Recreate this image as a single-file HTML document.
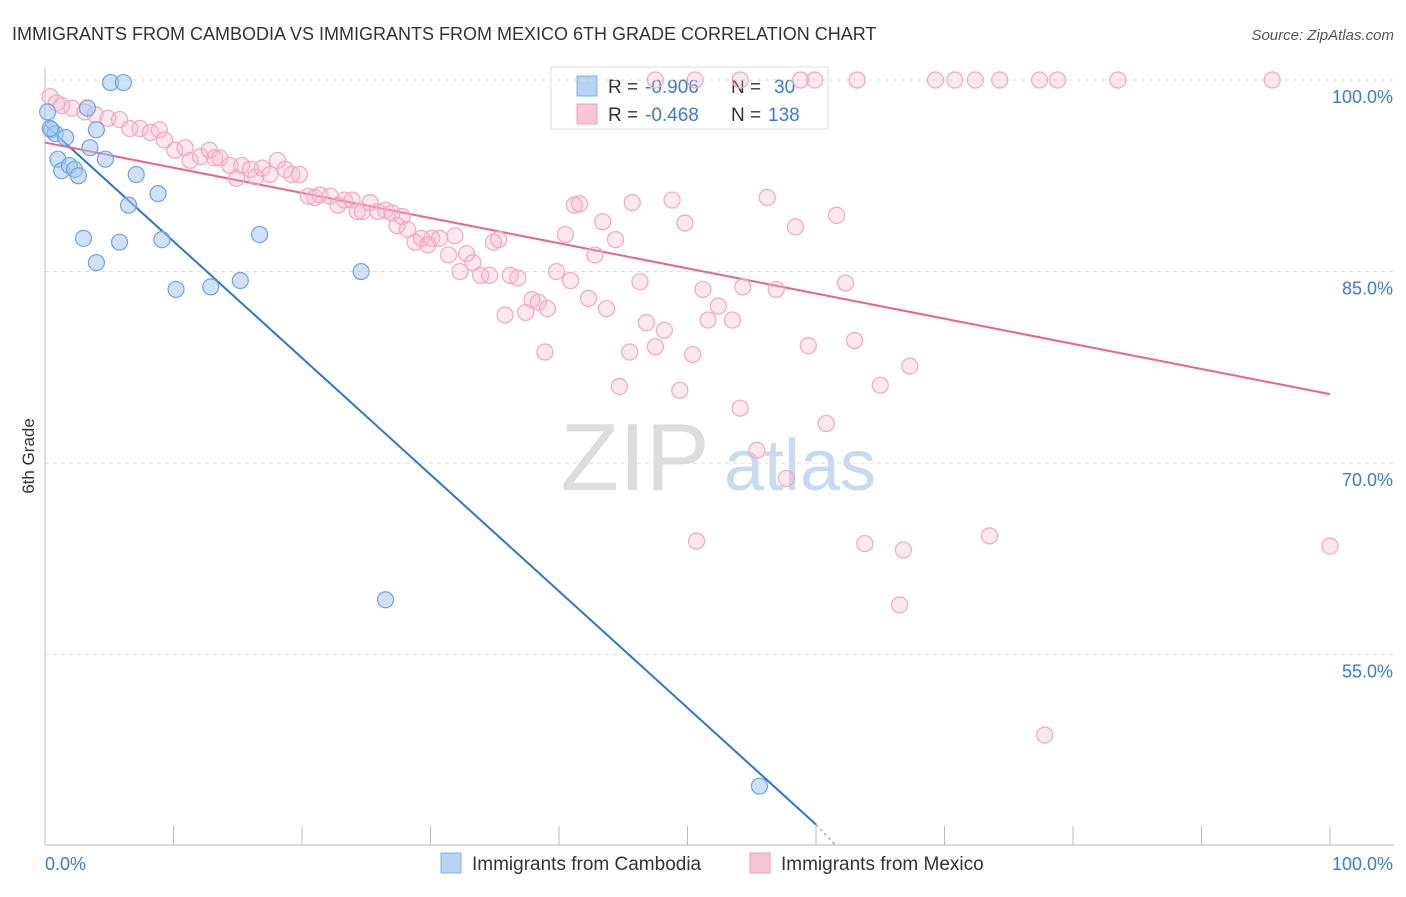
<!DOCTYPE html>
<html><head><meta charset="utf-8"><style>
body{margin:0;background:#fff;font-family:"Liberation Sans",sans-serif}
svg text{font-family:"Liberation Sans",sans-serif}
</style></head><body>
<svg id="chart" width="1406" height="892" xmlns="http://www.w3.org/2000/svg">
<text x="12" y="40" font-size="18" fill="#333">IMMIGRANTS FROM CAMBODIA VS IMMIGRANTS FROM MEXICO 6TH GRADE CORRELATION CHART</text>
<text x="1394" y="40" font-size="15" fill="#555" text-anchor="end" font-style="italic">Source: ZipAtlas.com</text>
<text x="34" y="456" font-size="17" fill="#333" text-anchor="middle" transform="rotate(-90 34 456)">6th Grade</text>
<g>
<text x="635" y="490" font-size="96" fill="#ddd" text-anchor="middle" font-family="Liberation Serif">ZIP</text>
<text x="800" y="490" font-size="72" fill="#c9daf0" text-anchor="middle">atlas</text>
</g>
<g>
<rect x="551" y="67" width="277" height="62" fill="#fff" stroke="#ddd"/>
<rect x="577" y="76" width="20" height="20" fill="#b7d3f3" stroke="#7fb0e8"/>
<text x="608" y="93" font-size="19" fill="#333">R =</text>
<text x="645" y="93" font-size="19" fill="#3a7bd5">-0.906</text>
<text x="731" y="93" font-size="19" fill="#333">N =</text>
<text x="774" y="93" font-size="19" fill="#3a7bd5">30</text>
<rect x="577" y="104" width="20" height="20" fill="#f9c4d3" stroke="#f0a0b8"/>
<text x="608" y="121" font-size="19" fill="#333">R =</text>
<text x="645" y="121" font-size="19" fill="#3a7bd5">-0.468</text>
<text x="731" y="121" font-size="19" fill="#333">N =</text>
<text x="768" y="121" font-size="19" fill="#3a7bd5">138</text>
</g>
<g id="grid"></g><g id="axes"></g><g id="lines"></g><g id="points"></g>
<g>
<rect x="441" y="853" width="20" height="20" fill="#b7d3f3" stroke="#7fb0e8"/>
<text x="472" y="870" font-size="19" fill="#333">Immigrants from Cambodia</text>
<rect x="750" y="853" width="20" height="20" fill="#f9c4d3" stroke="#f0a0b8"/>
<text x="781" y="870" font-size="19" fill="#333">Immigrants from Mexico</text>
</g>
</svg>
<script>
const yTicks=[100,85,70,55];
const yTickLabels=["100.0%","85.0%","70.0%","55.0%"];
const xTicks=[0,10,20,30,40,50,60,70,80,90,100];
const cambodiaX=[5.1,6.1,0.5,0.8,1.6,4.0,1.0,3.5,4.7,1.3,1.9,2.3,2.6,7.1,6.5,8.8,3.0,5.8,9.1,16.7,4.0,10.2,12.9,15.2,24.6,26.5,55.6,0.2,3.3,0.4];
const cambodiaY=[99.8,99.8,96.1,95.8,95.5,96.1,93.8,94.7,93.8,92.9,93.3,93.0,92.5,92.6,90.2,91.1,87.6,87.3,87.5,87.9,85.7,83.6,83.8,84.3,85.0,59.3,44.7,97.5,97.8,96.2];
const mexicoX=[0.4,0.9,1.3,2.1,3.1,3.9,4.9,5.8,6.6,7.4,8.2,8.9,9.3,10.1,10.9,11.3,12.1,12.8,13.2,13.6,14.4,14.9,15.3,16.0,16.4,16.9,17.5,18.1,18.7,19.2,19.8,20.5,21.0,21.4,22.2,22.8,23.3,23.9,24.3,24.7,25.3,25.9,26.5,27.0,27.4,27.8,28.2,28.8,29.3,29.8,30.1,30.7,31.4,31.9,32.3,32.8,33.3,33.9,34.6,34.9,35.3,35.8,36.2,36.8,37.4,37.9,38.4,38.9,39.1,39.8,40.5,40.9,41.2,41.6,42.3,42.8,43.4,43.7,44.4,45.5,45.7,44.7,46.3,46.8,47.5,48.2,48.8,49.4,49.8,50.4,50.7,51.2,51.6,52.4,53.5,54.1,54.3,55.4,56.2,56.9,57.7,58.4,59.4,60.8,61.6,62.3,63.0,63.8,65.0,66.5,66.8,67.3,73.5,77.8,100,47.5,50.6,54.1,58.8,59.9,63.2,69.3,70.8,72.4,74.3,77.4,78.8,83.5,95.5];
const mexicoY=[98.7,98.2,98.0,97.8,97.5,97.3,97.0,96.9,96.2,96.2,95.9,96.1,95.3,94.5,94.7,93.7,94.0,94.5,93.9,93.9,93.3,92.3,93.3,93.0,92.4,93.1,92.6,93.7,93.0,92.6,92.6,90.9,90.8,91.0,90.9,90.2,90.6,90.6,89.7,89.7,90.4,89.7,89.8,89.6,88.6,89.3,88.3,87.3,87.6,87.1,87.6,87.6,86.3,87.8,85.0,86.4,85.7,84.7,84.7,87.3,87.5,81.6,84.7,84.5,81.8,82.8,82.6,78.7,82.1,85.0,87.9,84.3,90.2,90.3,82.9,86.3,88.9,82.1,87.5,78.7,90.4,76.0,84.2,81.0,79.1,80.4,90.6,75.7,88.8,78.5,63.9,83.6,81.2,82.3,81.2,74.3,83.8,71.0,90.8,83.6,68.8,88.5,79.2,73.1,89.4,84.1,79.6,63.7,76.1,58.9,63.2,77.6,64.3,48.7,63.5,100,100,100,100,100,100,100,100,100,100,100,100,100,100];
const cambodiaTrend=[[0,96.5],[60.0,41.7]];
const cambodiaTrendExt=[[60.0,41.7],[61.5,40.1]];
const mexicoTrend=[[0,95.1],[100,75.4]];

const NS="http://www.w3.org/2000/svg";
const X0=45,X1=1330,YBOT=845;
const sx=v=>X0+(X1-X0)*v/100;
const sy=v=>80+(100-v)*12.77;
function mk(tag,parent,attrs){const e=document.createElementNS(NS,tag);for(const k in attrs)e.setAttribute(k,attrs[k]);document.getElementById(parent).appendChild(e);return e;}
yTicks.forEach((t,i)=>{
 const l=mk('line','grid',{x1:X0,x2:1394,y1:sy(t),y2:sy(t),stroke:'#ddd','stroke-dasharray':'4,4'});
 
 
 const tx=mk('text','grid',{x:1393,y:sy(t)+23,'font-size':18,fill:'#3a7bd5','text-anchor':'end'});
 tx.textContent=yTickLabels[i];
 
 
});
const ax=mk('line','axes',{x1:X0,x2:X0,y1:68,y2:YBOT,stroke:'#bbb'});


const bx=mk('line','axes',{x1:X0,x2:1394,y1:YBOT,y2:YBOT,stroke:'#bbb'});


xTicks.forEach(t=>{
 const l=mk('line','axes',{x1:sx(t),x2:sx(t),y1:826,y2:YBOT,stroke:'#bbb'});
 
 
});
[[0,'0.0%','start',X0],[100,'100.0%','end',1393]].forEach(([v,s,a,x])=>{
 const t=mk('text','axes',{x:x,y:870,'font-size':18,fill:'#3a7bd5','text-anchor':a});
 t.textContent=s;
 
 
});
mexicoX.forEach((x,i)=>{
 const c=mk('circle','points',{cx:sx(x),cy:sy(mexicoY[i]),r:8,fill:'rgba(248,180,200,0.3)',stroke:'#f0a8be','stroke-width':1.2});
 
 
});
cambodiaX.forEach((x,i)=>{
 const c=mk('circle','points',{cx:sx(x),cy:sy(cambodiaY[i]),r:8,fill:'rgba(165,200,240,0.55)',stroke:'#6fa3e3','stroke-width':1.2});
 
 
});
const l1=mk('line','lines',{x1:sx(cambodiaTrend[0][0]),y1:sy(cambodiaTrend[0][1]),x2:sx(cambodiaTrend[1][0]),y2:sy(cambodiaTrend[1][1]),stroke:'#2a75d9','stroke-width':2});


const l1e=mk('line','lines',{x1:sx(cambodiaTrendExt[0][0]),y1:sy(cambodiaTrendExt[0][1]),x2:sx(cambodiaTrendExt[1][0]),y2:sy(cambodiaTrendExt[1][1]),stroke:'#aaa','stroke-width':1.5,'stroke-dasharray':'3,3'});


const l2=mk('line','lines',{x1:sx(mexicoTrend[0][0]),y1:sy(mexicoTrend[0][1]),x2:sx(mexicoTrend[1][0]),y2:sy(mexicoTrend[1][1]),stroke:'#e8638f','stroke-width':2});


</script>
</body></html>
